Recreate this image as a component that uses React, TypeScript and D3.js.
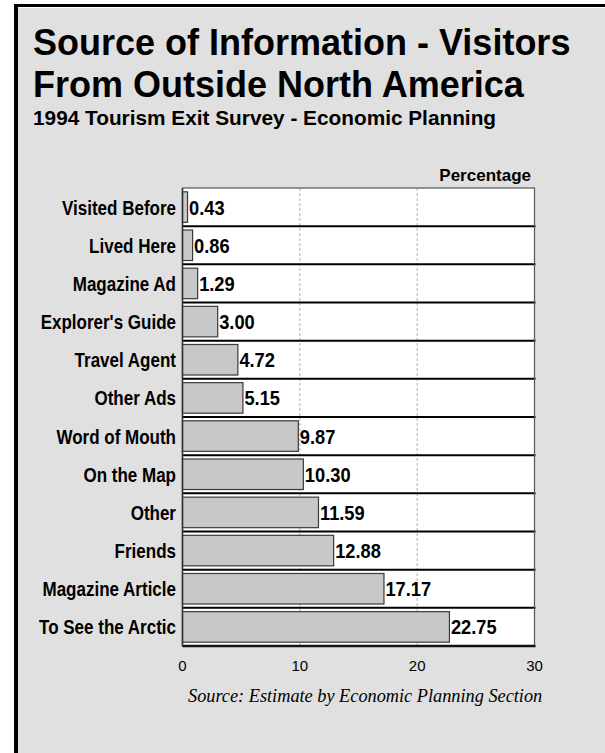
import React from "react";
import * as d3 from "d3";

const categories = [
  "Visited Before",
  "Lived Here",
  "Magazine Ad",
  "Explorer's Guide",
  "Travel Agent",
  "Other Ads",
  "Word of Mouth",
  "On the Map",
  "Other",
  "Friends",
  "Magazine Article",
  "To See the Arctic",
];
const values = [0.43, 0.86, 1.29, 3.0, 4.72, 5.15, 9.87, 10.3, 11.59, 12.88, 17.17, 22.75];
const ticks = [0, 10, 20, 30];
const gridTicks = [10, 20];
const titleLines = ["Source of Information - Visitors", "From Outside North America"];
const subtitle = "1994 Tourism Exit Survey - Economic Planning";
const axisTitle = "Percentage";
const sourceNote = "Source:  Estimate by Economic Planning Section";

const W = 605;
const H = 753;
const plot = { left: 182.5, right: 534.5, top: 188, bottom: 646 };

const sans = "'Liberation Sans', Arial, Helvetica, sans-serif";
const serif = "'Liberation Serif', 'Times New Roman', Times, serif";

export default function App() {
  const x = d3.scaleLinear().domain([0, 30]).range([plot.left, plot.right]);
  const y = d3.scaleBand<string>().domain(categories).range([plot.top, plot.bottom]).padding(0);
  const yb = d3
    .scaleBand<string>()
    .domain(categories)
    .range([plot.top, plot.bottom])
    .paddingInner(0.2)
    .paddingOuter(0.1);
  const fmt = d3.format(".2f");
  const data = categories.map((c, i) => ({ c, v: values[i] }));
  const rowMid = (c: string) => y(c)! + y.bandwidth() / 2;

  return (
    <svg
      width={W}
      height={H}
      style={{ position: "absolute", left: 0, top: 0, display: "block" }}
      xmlns="http://www.w3.org/2000/svg"
    >
      <rect x={0} y={0} width={W} height={H} fill="#ffffff" />
      <rect x={18} y={8} width={W - 18} height={H - 8} fill="#e0e0e0" />
      <line x1={16} y1={4} x2={16} y2={H} stroke="#000" strokeWidth={4} />
      <line x1={14} y1={5.5} x2={W} y2={5.5} stroke="#000" strokeWidth={3} />

      {titleLines.map((t, i) => (
        <text key={t} x={33} y={55 + i * 42} fontFamily={sans} fontWeight="bold" fontSize={36} fill="#000">
          {t}
        </text>
      ))}
      <text x={33} y={125} fontFamily={sans} fontWeight="bold" fontSize={20.8} fill="#000">
        {subtitle}
      </text>

      <text x={531} y={180.5} textAnchor="end" fontFamily={sans} fontWeight="bold" fontSize={17} fill="#000">
        {axisTitle}
      </text>

      <rect
        x={plot.left}
        y={plot.top}
        width={plot.right - plot.left}
        height={plot.bottom - plot.top}
        fill="#ffffff"
      />
      {gridTicks.map((t) => (
        <line
          key={t}
          x1={x(t)}
          x2={x(t)}
          y1={plot.top}
          y2={plot.bottom}
          stroke="#b0b0b0"
          strokeWidth={1}
          strokeDasharray="3,2"
        />
      ))}
      {categories.slice(1).map((c) => (
        <line
          key={c}
          x1={plot.left}
          x2={plot.right + 1}
          y1={y(c)!}
          y2={y(c)!}
          stroke="#000"
          strokeWidth={2}
        />
      ))}
      <rect
        x={plot.left}
        y={plot.top}
        width={plot.right - plot.left}
        height={plot.bottom - plot.top}
        fill="none"
        stroke="#555"
        strokeWidth={1.2}
      />
      <line x1={plot.left} x2={plot.right + 1} y1={plot.bottom} y2={plot.bottom} stroke="#111" strokeWidth={2.5} />

      {data.map((d) => (
        <rect
          key={d.c}
          x={x(0)}
          y={yb(d.c)!}
          width={x(d.v) - x(0)}
          height={yb.bandwidth()}
          fill="#c8c8c8"
          stroke="#3a3a3a"
          strokeWidth={1.2}
        />
      ))}
      <line x1={plot.left} x2={plot.left} y1={plot.top} y2={plot.bottom} stroke="#333" strokeWidth={1.5} />

      {data.map((d) => (
        <text
          key={d.c}
          transform={`translate(${x(d.v) + 1.5},${rowMid(d.c) + 7.5}) scale(0.87,1)`}
          fontFamily={sans}
          fontWeight="bold"
          fontSize={21}
          fill="#000"
        >
          {fmt(d.v)}
        </text>
      ))}

      {data.map((d) => (
        <text
          key={d.c}
          transform={`translate(176,${rowMid(d.c) + 7.5}) scale(0.81,1)`}
          textAnchor="end"
          fontFamily={sans}
          fontWeight="bold"
          fontSize={21}
          fill="#000"
        >
          {d.c}
        </text>
      ))}

      {ticks.map((t) => (
        <text key={t} x={x(t)} y={671} textAnchor="middle" fontFamily={sans} fontSize={15} fill="#000">
          {t}
        </text>
      ))}

      <text x={188} y={702} fontFamily={serif} fontStyle="italic" fontSize={18.3} fill="#000">
        {sourceNote}
      </text>
    </svg>
  );
}
